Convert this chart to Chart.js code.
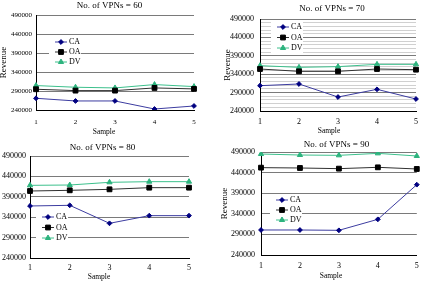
<!DOCTYPE html>
<html>
<head>
<meta charset="utf-8">
<script src="https://cdn.jsdelivr.net/npm/chart.js@4.4.0/dist/chart.umd.min.js"></script>
<style>
html, body { margin: 0; padding: 0; background: #fff; }
#wrap { position: relative; width: 425px; height: 283px; overflow: hidden; background: #fff; }
canvas { position: absolute; }
</style>
</head>
<body>
<div id="wrap">
  <canvas id="c60" width="212" height="141" style="left:0;top:0"></canvas>
  <canvas id="c70" width="213" height="141" style="left:212px;top:0"></canvas>
  <canvas id="c80" width="212" height="142" style="left:0;top:141px"></canvas>
  <canvas id="c90" width="213" height="142" style="left:212px;top:141px"></canvas>
</div>
<script>
'use strict';

// data
const samples = ['1', '2', '3', '4', '5'];
const vpnCounts = [60, 70, 80, 90];
const revenueTicks = [240000, 290000, 340000, 390000, 440000, 490000];
const minorStep = 10000;

const ca60 = [270800, 263800, 263800, 242600, 250600];
const oa60 = [294600, 291000, 291000, 298100, 295500];
const dv60 = [304300, 299900, 298100, 306900, 301600];

const ca70 = [308800, 313400, 278000, 298900, 272600];
const oa70 = [354100, 347800, 347800, 354100, 352300];
const dv70 = [363200, 358700, 360500, 366800, 366800];

const ca80 = [367500, 369100, 325000, 343800, 343800];
const oa80 = [404200, 405900, 408300, 412400, 412400];
const dv80 = [418100, 418900, 425500, 427100, 427100];

const ca90 = [300700, 300700, 299900, 326600, 410700];
const oa90 = [452000, 451200, 449600, 452800, 448800];
const dv90 = [485100, 482700, 481900, 486700, 480300];

const serif = '"Liberation Serif", "Times New Roman", serif';
const revenueMin = revenueTicks[0];
const revenueMax = revenueTicks[revenueTicks.length - 1];

// legend drawn inside the plot, like the original
const boxLegend = {
    id: 'boxLegend',
    afterDatasetsDraw(chart, args, opts) {
        const ctx = chart.ctx;
        const sets = chart.data.datasets;
        ctx.save();
        ctx.font = opts.size + 'px ' + serif;
        ctx.fillStyle = '#fff';
        ctx.fillRect(opts.x - 6, opts.y - opts.gap / 2, opts.len + 20, opts.gap * sets.length);
        sets.forEach(function (ds, i) {
            const yy = opts.y + i * opts.gap;
            ctx.strokeStyle = ds.borderColor;
            ctx.lineWidth = 1;
            ctx.beginPath();
            ctx.moveTo(opts.x, yy);
            ctx.lineTo(opts.x + opts.len, yy);
            ctx.stroke();
            ctx.fillStyle = ds.pointBackgroundColor;
            ctx.strokeStyle = ds.pointBorderColor;
            Chart.helpers.drawPoint(ctx, {
                pointStyle: ds.pointStyle,
                radius: ds.pointRadius,
                borderWidth: 1,
                rotation: 0
            }, opts.x + opts.len / 2, yy);
            ctx.fillStyle = '#000';
            ctx.textBaseline = 'middle';
            ctx.textAlign = 'left';
            ctx.fillText(ds.label, opts.x + opts.len + 2, yy);
        });
        ctx.restore();
    }
};

// chart title and x-axis name sit off-centre in the original
const panelText = {
    id: 'panelText',
    afterDraw(chart, args, opts) {
        const ctx = chart.ctx;
        ctx.save();
        ctx.fillStyle = '#000';
        ctx.textAlign = 'center';
        ctx.textBaseline = 'middle';
        opts.items.forEach(function (it) {
            ctx.font = it.size + 'px ' + serif;
            ctx.fillText(it.text, it.x, it.y);
        });
        ctx.restore();
    }
};

const panels = [
    { id: 'c60', vpn: vpnCounts[0], ca: ca60, oa: oa60, dv: dv60, w: 212, h: 141,
      area: { left: 36, top: 15, right: 194, bottom: 110 }, title: [109.5, 6], sample: [104, 132],
      yPad: 4, xPad: 7.8, tick: 7, revX: 4, minor: false,
      legend: { x: 55, y: 42, gap: 10, len: 12, size: 8 } },
    { id: 'c70', vpn: vpnCounts[1], ca: ca70, oa: oa70, dv: dv70, w: 213, h: 141,
      area: { left: 48, top: 19, right: 204, bottom: 111 }, title: [120, 8.3], sample: [117, 131],
      yPad: 6, xPad: 6.2, tick: 8, revX: 16, minor: true,
      legend: { x: 65, y: 27, gap: 10.5, len: 12, size: 8 } },
    { id: 'c80', vpn: vpnCounts[2], ca: ca80, oa: oa80, dv: dv80, w: 212, h: 142,
      area: { left: 30, top: 15, right: 189, bottom: 117 }, title: [102.5, 6.7], sample: [99, 136],
      yPad: 4, xPad: 5.2, tick: 8, revX: null, minor: false,
      legend: { x: 42, y: 76, gap: 10.5, len: 12, size: 8 } },
    { id: 'c90', vpn: vpnCounts[3], ca: ca90, oa: oa90, dv: dv90, w: 213, h: 142,
      area: { left: 49, top: 11, right: 212, bottom: 114 }, title: [124.5, 4], sample: [119, 135],
      yPad: 6, xPad: 6.2, tick: 8, revX: 13, minor: false,
      legend: { x: 64, y: 59, gap: 10, len: 12, size: 8 } }
];

function isMajor(v) {
    return revenueTicks.indexOf(v) !== -1;
}

panels.forEach(function (p) {
    const ctx = document.getElementById(p.id).getContext('2d');

    new Chart(ctx, {
        type: 'line',
        data: {
            labels: samples,
            datasets: [
                {
                    label: 'CA',
                    data: p.ca,
                    borderColor: '#3c3ca0',
                    borderWidth: 1,
                    pointStyle: 'rectRot',
                    pointRadius: 2.4,
                    pointBackgroundColor: '#000080',
                    pointBorderColor: '#000080',
                    tension: 0
                },
                {
                    label: 'OA',
                    data: p.oa,
                    borderColor: '#303030',
                    borderWidth: 1,
                    pointStyle: 'rect',
                    pointRadius: 3.4,
                    pointBackgroundColor: '#000',
                    pointBorderColor: '#000',
                    tension: 0
                },
                {
                    label: 'DV',
                    data: p.dv,
                    borderColor: '#3cc08c',
                    borderWidth: 1,
                    pointStyle: 'triangle',
                    pointRadius: 3,
                    pointBackgroundColor: '#2db37e',
                    pointBorderColor: '#2db37e',
                    tension: 0
                }
            ]
        },
        options: {
            responsive: false,
            animation: false,
            layout: {
                autoPadding: false,
                padding: { left: 0, top: p.area.top, bottom: 0, right: p.w - p.area.right }
            },
            plugins: {
                legend: { display: false },
                tooltip: { enabled: false },
                title: { display: false },
                boxLegend: p.legend,
                panelText: {
                    items: [
                        { text: 'No. of VPNs = ' + p.vpn, x: p.title[0], y: p.title[1], size: 9 },
                        { text: 'Sample', x: p.sample[0], y: p.sample[1], size: 7.5 }
                    ]
                }
            },
            scales: {
                x: {
                    offset: false,
                    grid: { display: false, drawTicks: false },
                    border: { display: true, color: '#000' },
                    ticks: { color: '#000', padding: p.xPad, font: { family: serif, size: p.tick } },
                    afterFit: function (scale) { scale.height = p.h - p.area.bottom; }
                },
                y: {
                    min: revenueMin,
                    max: revenueMax,
                    afterBuildTicks: function (scale) {
                        const vals = [];
                        if (p.minor) {
                            for (let v = revenueMin; v <= revenueMax; v += minorStep) vals.push(v);
                        } else {
                            revenueTicks.forEach(function (v) { vals.push(v); });
                        }
                        scale.ticks = vals.map(function (v) { return { value: v }; });
                    },
                    grid: {
                        drawTicks: false,
                        color: function (c) {
                            return c.tick && isMajor(c.tick.value) ? '#7a7a7a' : '#d0d0d0';
                        }
                    },
                    border: { display: true, color: '#000' },
                    ticks: {
                        autoSkip: false,
                        color: '#000',
                        padding: p.yPad,
                        font: { family: serif, size: p.tick },
                        callback: function (v) { return isMajor(v) ? String(v) : ''; }
                    },
                    title: {
                        display: p.revX !== null,
                        text: 'Revenue',
                        color: '#000',
                        font: { family: serif, size: 9, lineHeight: 8 / 9 },
                        padding: { top: (p.revX || 4) - 4, bottom: 0 }
                    },
                    afterFit: function (scale) { scale.width = p.area.left; }
                }
            }
        },
        plugins: [boxLegend, panelText]
    });
});
</script>
</body>
</html>
